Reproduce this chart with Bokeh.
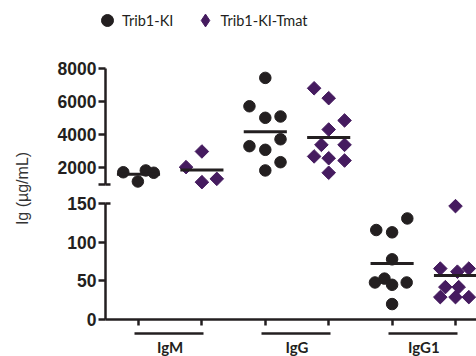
import math
from bokeh.plotting import figure
from bokeh.models import (ColumnDataSource, Range1d, LinearAxis, FixedTicker,
                          Legend, LegendItem, Label)
from bokeh.core.properties import value
from bokeh.embed import file_html
from bokeh.resources import INLINE

# ---------------- data ----------------
categories = ["IgM", "IgG", "IgG1"]
series_names = ["Trib1-KI", "Trib1-KI-Tmat"]

ki_igm = [1730, 1170, 1840, 1700]
ki_igg = [7450, 5730, 5030, 5110, 3730, 3310, 3090, 2340, 1840]
ki_igg1 = [131, 116, 113, 78, 48, 53, 45, 48, 20]

tmat_igm = [2040, 2990, 1130, 1330]
tmat_igg = [6820, 6220, 4870, 4320, 3390, 3390, 2690, 2580, 2440, 1700]
tmat_igg1 = [147, 66, 62, 66, 42, 42, 29, 29, 29]

# horizontal scatter offsets of the dots (fraction of one slot)
ki_igm_dx = [-0.24, -0.01, 0.115, 0.24]
ki_igg_dx = [0, -0.25, 0, 0.24, 0.24, -0.25, 0, 0.24, 0]
ki_igg1_dx = [0.24, -0.25, 0, 0, -0.27, -0.12, 0, 0.23, 0]
tmat_igm_dx = [-0.25, 0, 0, 0.235]
tmat_igg_dx = [-0.23, 0, 0.25, 0, -0.115, 0.25, -0.23, 0, 0.25, 0]
tmat_igg1_dx = [0, -0.24, 0.03, 0.21, -0.16, 0.05, -0.24, 0, 0.21]

upper_ticks = [2000, 4000, 6000, 8000]
lower_ticks = [0, 50, 100, 150]
upper_bounds = (1000, 8000)
lower_bounds = (0, 150)

# ---------------- geometry (pixels of the canvas) ----------------
W, H = 476, 356
unit_px = 63.4          # one slot
slot1_px = 138          # first slot centre
yaxis_px = 105          # vertical axes
x_start = 1 - slot1_px / unit_px
x_end = x_start + W / unit_px
x_axis_loc = 1 - (slot1_px - yaxis_px) / unit_px

zero_px = 319           # lower segment: 0 .. 150
lo_ppu = (319 - 203.3) / 150.0
lo_end = zero_px / lo_ppu
lo_start = -(H - zero_px) / lo_ppu

top_px = 68.3           # upper segment: 1000 .. 8000
up_ppu = 33 / 2000.0
up_end = upper_bounds[1] + top_px / up_ppu
up_start = upper_bounds[1] - (H - top_px) / up_ppu

INK = "#231f20"
PURPLE = "#451b5f"

p = figure(width=W, height=H, x_range=Range1d(x_start, x_end),
           y_range=Range1d(lo_start, lo_end), output_backend="svg",
           toolbar_location=None, min_border_left=0, min_border_right=0,
           min_border_top=0, min_border_bottom=0, outline_line_color=None)
p.extra_y_ranges = {"up": Range1d(up_start, up_end)}
p.grid.visible = False
p.background_fill_color = "white"
p.border_fill_color = "white"


def style_axis(ax, tick_out=7, size="17.5px", font="Liberation Sans"):
    ax.axis_line_color = INK
    ax.axis_line_width = 2.5
    ax.major_tick_line_color = INK
    ax.major_tick_line_width = 2.5
    ax.minor_tick_line_color = None
    ax.major_tick_in = 0
    ax.major_tick_out = tick_out
    ax.major_label_text_font = font
    ax.major_label_text_font_style = "bold"
    ax.major_label_text_font_size = size
    ax.major_label_text_color = INK
    ax.major_label_standoff = 2


# lower y axis
ylo = p.yaxis[0]
style_axis(ylo)
ylo.fixed_location = x_axis_loc
ylo.bounds = lower_bounds
ylo.ticker = FixedTicker(ticks=lower_ticks)

# upper y axis
yup = LinearAxis(y_range_name="up", fixed_location=x_axis_loc, bounds=upper_bounds,
                 ticker=FixedTicker(ticks=[upper_bounds[0]] + upper_ticks),
                 major_label_overrides={upper_bounds[0]: ""})
style_axis(yup)
p.add_layout(yup, "left")

# break caps (inner part of the end ticks)
cap_lo = LinearAxis(fixed_location=x_axis_loc, ticker=FixedTicker(ticks=[lower_bounds[1]]),
                    major_label_overrides={lower_bounds[1]: ""})
style_axis(cap_lo)
cap_lo.axis_line_color = None
cap_lo.major_tick_in = 5
cap_lo.major_tick_out = 0
p.add_layout(cap_lo, "left")
cap_up = LinearAxis(y_range_name="up", fixed_location=x_axis_loc,
                    ticker=FixedTicker(ticks=[upper_bounds[0]]),
                    major_label_overrides={upper_bounds[0]: ""})
style_axis(cap_up)
cap_up.axis_line_color = None
cap_up.major_tick_in = 5
cap_up.major_tick_out = 0
p.add_layout(cap_up, "left")

# x axis at y = 0
slots = [1 + 2 * i + j for i in range(len(categories)) for j in range(len(series_names))]
xax = p.xaxis[0]
style_axis(xax, tick_out=6)
xax.fixed_location = 0
xax.bounds = (x_axis_loc, x_end)
xax.ticker = FixedTicker(ticks=slots)
xax.major_label_overrides = {s: "" for s in slots}

# group brackets with category names
bracket_y = -(333 - zero_px) / lo_ppu
for i, cat in enumerate(categories):
    s0 = 1 + 2 * i
    s1 = s0 + len(series_names) - 1
    c = (s0 + s1) / 2
    gax = LinearAxis(fixed_location=bracket_y, bounds=(s0 - 0.06, s1 + 0.03),
                     ticker=FixedTicker(ticks=[c]), major_label_overrides={c: cat})
    style_axis(gax, tick_out=0, size="15px", font="Lato")
    gax.major_label_standoff = 4
    p.add_layout(gax, "below")

# ---------------- points ----------------
def build(vals_list, dx_list, j):
    up = dict(x=[], y=[])
    lo = dict(x=[], y=[])
    mup = dict(x0=[], x1=[], y=[])
    mlo = dict(x0=[], x1=[], y=[])
    for i, (vals, dxs) in enumerate(zip(vals_list, dx_list)):
        pos = 1 + 2 * i + j
        for v, d in zip(vals, dxs):
            tgt = up if v > lower_bounds[1] else lo
            tgt["x"].append(pos + d)
            tgt["y"].append(v)
        m = sum(vals) / len(vals)
        tgt = mup if m > lower_bounds[1] else mlo
        tgt["x0"].append(pos - 0.34)
        tgt["x1"].append(pos + 0.34)
        tgt["y"].append(m)
    return up, lo, mup, mlo


ki = build([ki_igm, ki_igg, ki_igg1], [ki_igm_dx, ki_igg_dx, ki_igg1_dx], 0)
tm = build([tmat_igm, tmat_igg, tmat_igg1], [tmat_igm_dx, tmat_igg_dx, tmat_igg1_dx], 1)

r_ki = p.scatter("x", "y", source=ColumnDataSource(ki[0]), y_range_name="up",
                 marker="circle", size=11.5, color=INK)
p.scatter("x", "y", source=ColumnDataSource(ki[1]), marker="circle", size=11.5, color=INK)
tm_up_src = ColumnDataSource(tm[0])
p.scatter("x", "y", source=tm_up_src, y_range_name="up",
          marker="square", angle=math.pi / 4, size=9.6, color=PURPLE)
p.scatter("x", "y", source=ColumnDataSource(tm[1]), marker="square",
          angle=math.pi / 4, size=9.6, color=PURPLE)
# hidden renderer that only supplies the legend key
r_tm_key = p.scatter("x", "y", source=tm_up_src, y_range_name="up",
                     marker="diamond", color=PURPLE, visible=False)

for grp in (ki, tm):
    p.segment("x0", "y", "x1", "y", source=ColumnDataSource(grp[2]), y_range_name="up",
              line_color=INK, line_width=3)
    p.segment("x0", "y", "x1", "y", source=ColumnDataSource(grp[3]),
              line_color=INK, line_width=3)

# ---------------- legend ----------------
leg_common = dict(padding=0, margin=0, background_fill_alpha=0,
                  border_line_color=None, label_text_font="Lato",
                  label_text_font_size="14.5px", label_text_color=INK)
leg1 = Legend(items=[LegendItem(label=value(series_names[0]), renderers=[r_ki])],
              location=(92, H - 35), glyph_width=30, glyph_height=30,
              label_standoff=0, **leg_common)
leg2 = Legend(items=[LegendItem(label=value(series_names[1]), renderers=[r_tm_key])],
              location=(188.5, H - 36), glyph_width=32, glyph_height=32,
              label_standoff=-4, **leg_common)
p.add_layout(leg1)
p.add_layout(leg2)

# ---------------- y title ----------------
p.add_layout(Label(x=22, y=H - 188, x_units="screen", y_units="screen",
                   text="Ig (µg/mL)", angle=math.pi / 2, text_align="center",
                   text_baseline="middle", text_font="Liberation Sans",
                   text_font_size="16px", text_color="#333333"))

open("out.html", "w").write(file_html(p, INLINE))
